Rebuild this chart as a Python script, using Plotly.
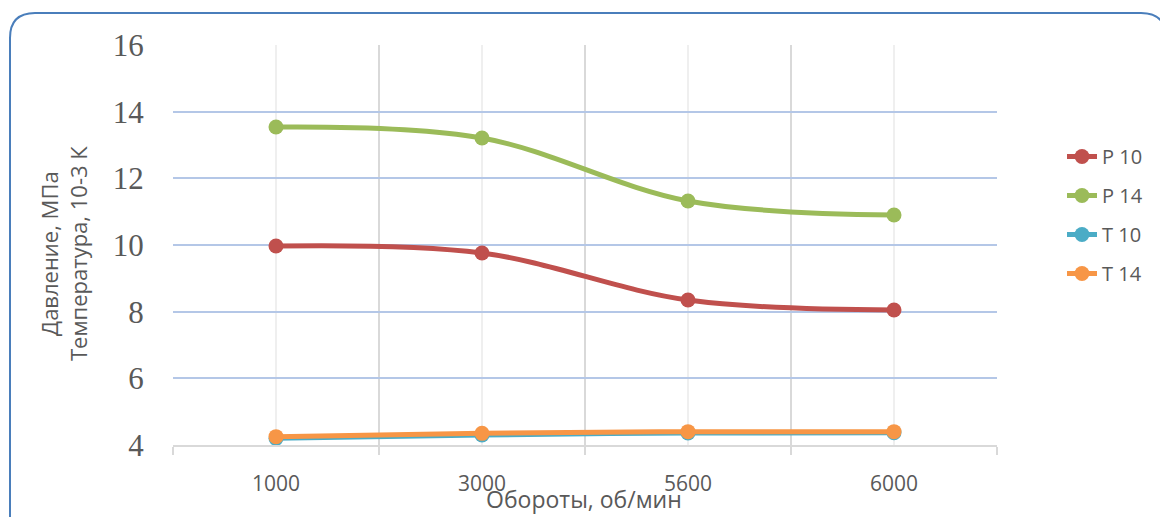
import plotly.graph_objects as go

categories = ["1000", "3000", "5600", "6000"]
p10 = [9.97, 9.76, 8.35, 8.05]
p14 = [13.54, 13.21, 11.32, 10.90]
t10 = [4.20, 4.30, 4.36, 4.37]
t14 = [4.25, 4.35, 4.40, 4.40]

series = [
    ("P 10", p10, "#c0504d"),
    ("P 14", p14, "#9bbb59"),
    ("T 10", t10, "#4bacc6"),
    ("T 14", t14, "#f79646"),
]

xpos = list(range(len(categories)))

fig = go.Figure()
for i, (name, vals, color) in enumerate(series):
    fig.add_trace(go.Scatter(
        x=xpos, y=vals, name=name, mode="lines+markers",
        line=dict(color=color, width=5, shape="spline", smoothing=1),
        marker=dict(color=color, size=15),
        legendgroup=f"g{i}",
    ))

# page body has an 8px margin; work in figure coordinates
OFF = 8
W, H = 1168 - OFF, 517 - OFF
L, T = 173 - OFF, 45 - OFF
pw, ph = 824, 400
R, B = W - L - pw, H - T - ph

def px(x):  # screen x -> paper
    return (x - OFF - L) / pw

def py(y):  # screen y -> paper
    return (T + ph - (y - OFF)) / ph

SANS = "Open Sans, sans-serif"
GREY = "#595959"

# rounded border (paper coordinates)
r = 25
x0, x1 = 10, 1166
y0, y1 = 13, 560
path = (
    f"M {px(x0)} {py(y1)} L {px(x0)} {py(y0 + r)} "
    f"Q {px(x0)} {py(y0)} {px(x0 + r)} {py(y0)} "
    f"L {px(x1 - r)} {py(y0)} Q {px(x1)} {py(y0)} {px(x1)} {py(y0 + r)} "
    f"L {px(x1)} {py(y1)}"
)
fig.add_shape(type="path", path=path, xref="paper", yref="paper",
              line=dict(color="#4a7ebb", width=2), layer="above")

fig.add_annotation(text="Обороты, об/мин", xref="paper", yref="paper",
                   x=px(584), y=py(499), xanchor="center", yanchor="middle",
                   showarrow=False, font=dict(family=SANS, size=23, color=GREY))
fig.add_annotation(text="Давление, МПа<br>Температура, 10-3 К", xref="paper", yref="paper",
                   x=px(63), y=py(254), xanchor="center", yanchor="middle",
                   textangle=-90, showarrow=False,
                   font=dict(family=SANS, size=22, color=GREY))

fig.update_layout(
    width=W, height=H,
    margin=dict(l=L, r=R, t=T, b=B),
    paper_bgcolor="white", plot_bgcolor="white",
    showlegend=True,
    legend=dict(x=px(1062), y=py(137), xanchor="left", yanchor="top",
                font=dict(family=SANS, size=20, color=GREY),
                tracegroupgap=10, bgcolor="rgba(0,0,0,0)"),
    xaxis=dict(
        range=[-0.5, len(categories) - 0.5],
        tickmode="array", tickvals=xpos, ticktext=categories,
        showgrid=True, gridcolor="#efefef", gridwidth=2,
        ticks="outside", ticklen=19, tickcolor="rgba(0,0,0,0)",
        tickfont=dict(family=SANS, size=21, color=GREY),
        minor=dict(tickmode="linear", tick0=-0.5, dtick=1, showgrid=True,
                   gridcolor="#d9d9d9", gridwidth=2, ticks="outside",
                   ticklen=8, tickcolor="#d9d9d9", tickwidth=2),
        showline=True, linecolor="#d9d9d9", linewidth=2,
        zeroline=False,
    ),
    yaxis=dict(
        range=[4, 16], dtick=2, tick0=4,
        showgrid=True, gridcolor="#b4c7e7", gridwidth=2,
        ticks="outside", ticklen=22, tickcolor="rgba(0,0,0,0)",
        tickfont=dict(family="Liberation Serif, serif", size=31, color=GREY),
        zeroline=False, showline=False,
    ),
)

fig.write_html("out.html")
